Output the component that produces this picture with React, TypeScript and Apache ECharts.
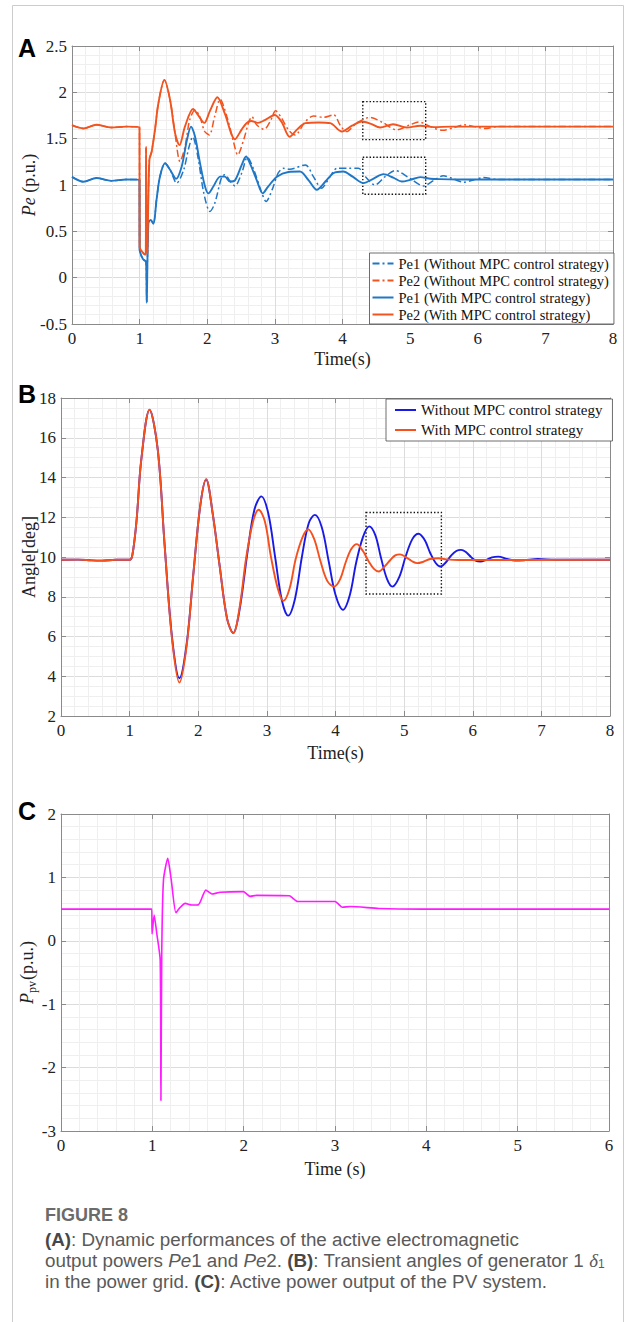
import React, { useEffect, useRef } from "react";
import * as echarts from "echarts";

// ---------- Panel A: electromagnetic output powers (p.u.) vs time (s) ----------
const peTimeTicks = [0, 1, 2, 3, 4, 5, 6, 7, 8];
const peValueTicks = [-0.5, 0, 0.5, 1, 1.5, 2, 2.5];

const pe1WithoutMpc: [number, number][] = [
  [0, 1.088], [0.17, 1.035], [0.36, 1.075], [0.58, 1.045], [0.8, 1.06], [0.998, 1.056],
  [1.0, 0.3], [1.05, 0.2], [1.095, 0.17], [1.105, -0.27], [1.129, 0.59], [1.164, 0.624],
  [1.203, 0.58], [1.25, 0.84], [1.3, 1.09], [1.376, 1.235], [1.45, 1.164], [1.548, 1.02],
  [1.65, 1.16], [1.73, 1.41], [1.785, 1.52], [1.86, 1.31], [1.95, 0.91], [2.04, 0.714],
  [2.11, 0.8], [2.215, 1.09], [2.26, 1.11], [2.34, 1.04], [2.41, 0.99], [2.51, 1.13],
  [2.594, 1.3], [2.68, 1.18], [2.81, 0.91], [2.87, 0.822], [2.96, 0.95], [3.05, 1.13],
  [3.13, 1.18], [3.22, 1.17], [3.45, 1.217], [3.57, 1.09], [3.69, 0.966], [3.8, 1.07],
  [3.92, 1.18], [4.1, 1.18], [4.235, 1.18], [4.34, 1.09], [4.48, 1.0], [4.63, 1.09],
  [4.78, 1.156], [5.0, 1.07], [5.197, 0.99], [5.35, 1.05], [5.49, 1.1], [5.64, 1.065],
  [5.79, 1.03], [5.94, 1.055], [6.08, 1.08], [6.3, 1.06], [6.6, 1.06], [8, 1.06],
];

const pe2WithoutMpc: [number, number][] = [
  [0, 1.645], [0.17, 1.61], [0.36, 1.65], [0.58, 1.62], [0.8, 1.63], [0.998, 1.627],
  [1.0, 0.33], [1.06, 0.26], [1.09, 0.25], [1.095, 1.41], [1.105, 0.26], [1.114, 0.27],
  [1.144, 1.27], [1.178, 1.36], [1.228, 1.6], [1.277, 1.88], [1.366, 2.134], [1.45, 1.92],
  [1.52, 1.58], [1.598, 1.253], [1.67, 1.41], [1.74, 1.7], [1.82, 1.81], [1.89, 1.74],
  [1.96, 1.58], [2.03, 1.54], [2.11, 1.74], [2.19, 1.925], [2.29, 1.74], [2.39, 1.46],
  [2.45, 1.325], [2.54, 1.49], [2.61, 1.67], [2.66, 1.738], [2.73, 1.65], [2.84, 1.6],
  [2.94, 1.7], [3.01, 1.8], [3.1, 1.72], [3.2, 1.595], [3.3, 1.54], [3.45, 1.684],
  [3.57, 1.745], [3.72, 1.73], [3.87, 1.756], [3.97, 1.64], [4.06, 1.577], [4.21, 1.67],
  [4.41, 1.73], [4.605, 1.67], [4.8, 1.595], [5.0, 1.65], [5.13, 1.68], [5.3, 1.63],
  [5.48, 1.59], [5.65, 1.62], [5.8, 1.65], [5.95, 1.63], [6.1, 1.61], [6.3, 1.63],
  [6.6, 1.63], [8, 1.63],
];

const pe1WithMpc: [number, number][] = [
  [0, 1.088], [0.17, 1.035], [0.36, 1.075], [0.58, 1.045], [0.8, 1.06], [0.998, 1.056],
  [1.0, 0.3], [1.05, 0.2], [1.095, 0.17], [1.105, -0.27], [1.129, 0.59], [1.164, 0.624],
  [1.203, 0.58], [1.25, 0.84], [1.3, 1.09], [1.376, 1.235], [1.45, 1.164], [1.539, 1.066],
  [1.622, 1.2], [1.7, 1.487], [1.76, 1.63], [1.82, 1.52], [1.893, 1.236], [1.967, 0.983],
  [2.016, 0.91], [2.09, 0.983], [2.19, 1.09], [2.26, 1.09], [2.337, 1.037], [2.41, 1.05],
  [2.51, 1.217], [2.574, 1.307], [2.63, 1.235], [2.73, 1.056], [2.82, 0.91], [2.9, 0.983],
  [3.03, 1.09], [3.2, 1.14], [3.37, 1.145], [3.5, 1.05], [3.62, 0.948], [3.75, 1.04],
  [3.865, 1.127], [4.01, 1.145], [4.15, 1.09], [4.31, 1.02], [4.46, 1.07], [4.605, 1.117],
  [4.75, 1.08], [4.877, 1.037], [5.0, 1.055], [5.15, 1.085], [5.3, 1.068], [5.44, 1.063],
  [5.7, 1.06], [8, 1.06],
];

const pe2WithMpc: [number, number][] = [
  [0, 1.645], [0.17, 1.61], [0.36, 1.65], [0.58, 1.62], [0.8, 1.63], [0.998, 1.627],
  [1.0, 0.33], [1.06, 0.26], [1.09, 0.25], [1.095, 1.41], [1.105, 0.26], [1.114, 0.27],
  [1.144, 1.27], [1.178, 1.36], [1.228, 1.6], [1.277, 1.88], [1.366, 2.134], [1.45, 1.92],
  [1.524, 1.56], [1.59, 1.43], [1.67, 1.63], [1.79, 1.82], [1.86, 1.76], [1.957, 1.67],
  [2.04, 1.8], [2.15, 1.947], [2.26, 1.77], [2.41, 1.494], [2.51, 1.6], [2.58, 1.667],
  [2.65, 1.69], [2.75, 1.67], [2.85, 1.7], [3.0, 1.756], [3.1, 1.68], [3.22, 1.52],
  [3.33, 1.6], [3.45, 1.667], [3.65, 1.675], [3.82, 1.667], [3.99, 1.577], [4.14, 1.64],
  [4.29, 1.685], [4.42, 1.66], [4.556, 1.62], [4.75, 1.656], [4.95, 1.62], [5.15, 1.64],
  [5.35, 1.625], [5.6, 1.63], [8, 1.63],
];

// dotted zoom boxes in panel A: [t0, v0, t1, v1]
const peBoxUpper = [4.3, 1.9, 5.23, 1.49];
const peBoxLower = [4.3, 1.3, 5.23, 0.9];

// ---------- Panel B: rotor angle (deg) vs time (s) ----------
const angleTimeTicks = [0, 1, 2, 3, 4, 5, 6, 7, 8];
const angleValueTicks = [2, 4, 6, 8, 10, 12, 14, 16, 18];

const angleWithoutMpc: [number, number][] = [
  [0, 9.86], [0.25, 9.87], [0.45, 9.83], [0.6, 9.82], [0.8, 9.86], [1.0, 9.86],
  [1.04, 10.1], [1.1, 11.8], [1.17, 14.9], [1.29, 17.41], [1.41, 15.4], [1.51, 10.6],
  [1.62, 5.9], [1.726, 3.9], [1.83, 5.6], [1.93, 9.2], [2.03, 12.6], [2.115, 13.9],
  [2.21, 12.2], [2.31, 9.6], [2.42, 6.9], [2.51, 6.18], [2.6, 7.3], [2.72, 10.3],
  [2.82, 12.4], [2.92, 13.05], [3.02, 12.2], [3.12, 10.0], [3.22, 7.8], [3.31, 7.05],
  [3.41, 7.9], [3.51, 10.0], [3.61, 11.7], [3.7, 12.12], [3.8, 11.5], [3.9, 9.8],
  [4.0, 8.1], [4.11, 7.34], [4.21, 8.1], [4.3, 9.7], [4.4, 11.0], [4.49, 11.54],
  [4.58, 11.1], [4.66, 10.0], [4.75, 8.9], [4.83, 8.51], [4.93, 9.0], [5.02, 10.0],
  [5.12, 10.9], [5.21, 11.17], [5.3, 10.85], [5.38, 10.2], [5.46, 9.7], [5.53, 9.52],
  [5.6, 9.7], [5.68, 10.05], [5.76, 10.3], [5.83, 10.36], [5.9, 10.25], [5.98, 9.98],
  [6.05, 9.8], [6.11, 9.77], [6.2, 9.86], [6.28, 9.98], [6.37, 10.02], [6.5, 9.9],
  [6.62, 9.82], [6.75, 9.84], [6.95, 9.9], [7.2, 9.86], [8, 9.86],
];

const angleWithMpc: [number, number][] = [
  [0, 9.86], [0.25, 9.87], [0.45, 9.83], [0.6, 9.82], [0.8, 9.86], [1.0, 9.86],
  [1.04, 10.1], [1.1, 11.8], [1.17, 14.9], [1.29, 17.41], [1.41, 15.4], [1.51, 10.6],
  [1.62, 5.8], [1.726, 3.68], [1.83, 5.5], [1.93, 9.2], [2.03, 12.6], [2.115, 13.92],
  [2.21, 12.2], [2.31, 9.6], [2.42, 6.9], [2.51, 6.16], [2.6, 7.4], [2.7, 10.0],
  [2.8, 11.8], [2.88, 12.38], [2.97, 11.8], [3.06, 10.0], [3.16, 8.4], [3.24, 7.79],
  [3.33, 8.4], [3.42, 9.9], [3.52, 11.0], [3.6, 11.4], [3.69, 10.9], [3.78, 9.8],
  [3.88, 8.8], [3.98, 8.51], [4.07, 8.9], [4.15, 9.75], [4.23, 10.4], [4.31, 10.65],
  [4.4, 10.3], [4.48, 9.8], [4.56, 9.4], [4.63, 9.27], [4.71, 9.5], [4.8, 9.85],
  [4.87, 10.08], [4.94, 10.13], [5.03, 9.98], [5.11, 9.8], [5.19, 9.69], [5.28, 9.76],
  [5.38, 9.9], [5.5, 9.94], [5.62, 9.88], [5.8, 9.85], [8, 9.86],
];

const angleBox = [4.445, 12.24, 5.543, 8.14];

// ---------- Panel C: PV active power (p.u.) vs time (s) ----------
const pvTimeTicks = [0, 1, 2, 3, 4, 5, 6];
const pvValueTicks = [-3, -2, -1, 0, 1, 2];

const pvPower: [number, number][] = [
  [0, 0.5], [0.994, 0.5], [0.997, 0.107], [1.02, 0.407], [1.05, 0.1], [1.086, -0.3],
  [1.094, -2.52], [1.103, -0.2], [1.122, 0.96], [1.169, 1.3], [1.207, 0.96], [1.258, 0.443],
  [1.3, 0.52], [1.36, 0.59], [1.433, 0.565], [1.506, 0.57], [1.586, 0.8], [1.652, 0.738],
  [1.743, 0.765], [1.998, 0.775], [2.07, 0.7], [2.14, 0.717], [2.5, 0.71], [2.59, 0.62],
  [3.0, 0.62], [3.08, 0.53], [3.17, 0.54], [3.48, 0.51], [3.96, 0.5], [6, 0.5],
];

// ---------- names ----------
const peNames = [
  "Pe1 (Without MPC control strategy)",
  "Pe2 (Without MPC control strategy)",
  "Pe1 (With MPC control strategy)",
  "Pe2 (With MPC control strategy)",
];
const angleNames = ["Without MPC control strategy", "With MPC control strategy"];

const SERIF = "'Liberation Serif', 'Times New Roman', serif";
const SANS = "'Liberation Sans', Arial, sans-serif";
const AXIS_COLOR = "#8a8a8a";
const TEXT_COLOR = "#222222";
const BLUE = "#1f77c6";
const ORANGE = "#f2541f";
const DASHDOT = [7, 3, 2, 3];

function bottomX(grid: number, ticks: number[], name: string, nameGap: number) {
  return {
    type: "value",
    gridIndex: grid,
    position: "bottom",
    min: ticks[0],
    max: ticks[ticks.length - 1],
    interval: ticks[1] - ticks[0],
    name,
    nameLocation: "middle",
    nameGap,
    nameMoveOverlap: false,
    nameTextStyle: { fontFamily: SERIF, fontSize: 18, color: TEXT_COLOR },
    axisLine: { show: true, onZero: false, lineStyle: { color: AXIS_COLOR, width: 1 } },
    axisTick: { show: true, inside: true, length: 5, lineStyle: { color: AXIS_COLOR } },
    axisLabel: { show: true, margin: 6, fontFamily: SERIF, fontSize: 17, color: TEXT_COLOR },
    splitLine: { show: true, lineStyle: { color: "#dcdcdc", width: 1 } },
    minorTick: { show: false, splitNumber: 5 },
    minorSplitLine: { show: true, lineStyle: { color: "#efefef", width: 1 } },
  };
}
function topX(grid: number, ticks: number[]) {
  return {
    type: "value",
    gridIndex: grid,
    position: "top",
    min: ticks[0],
    max: ticks[ticks.length - 1],
    interval: ticks[1] - ticks[0],
    axisLine: { show: true, onZero: false, lineStyle: { color: AXIS_COLOR, width: 1 } },
    axisTick: { show: true, inside: true, length: 5, lineStyle: { color: AXIS_COLOR } },
    axisLabel: { show: false },
    splitLine: { show: false },
  };
}
function leftY(grid: number, ticks: number[], name: string, nameGap: number, minorSplit: number, rich: any) {
  return {
    type: "value",
    gridIndex: grid,
    position: "left",
    min: ticks[0],
    max: ticks[ticks.length - 1],
    interval: ticks[1] - ticks[0],
    name,
    nameLocation: "middle",
    nameRotate: 90,
    nameGap,
    nameMoveOverlap: false,
    nameTextStyle: { fontFamily: SERIF, fontSize: 18, color: TEXT_COLOR, rich },
    axisLine: { show: true, onZero: false, lineStyle: { color: AXIS_COLOR, width: 1 } },
    axisTick: { show: true, inside: true, length: 5, lineStyle: { color: AXIS_COLOR } },
    axisLabel: { show: true, margin: 5, fontFamily: SERIF, fontSize: 17, color: TEXT_COLOR },
    splitLine: { show: true, lineStyle: { color: "#dcdcdc", width: 1 } },
    minorTick: { show: false, splitNumber: minorSplit },
    minorSplitLine: { show: true, lineStyle: { color: "#efefef", width: 1 } },
  };
}
function rightY(grid: number, ticks: number[]) {
  return {
    type: "value",
    gridIndex: grid,
    position: "right",
    min: ticks[0],
    max: ticks[ticks.length - 1],
    interval: ticks[1] - ticks[0],
    axisLine: { show: true, onZero: false, lineStyle: { color: AXIS_COLOR, width: 1 } },
    axisTick: { show: true, inside: true, length: 5, lineStyle: { color: AXIS_COLOR } },
    axisLabel: { show: false },
    splitLine: { show: false },
  };
}

function boxArea(b: number[]) {
  return [{ xAxis: b[0], yAxis: b[1] }, { xAxis: b[2], yAxis: b[3] }];
}
const boxStyle = {
  color: "rgba(0,0,0,0)",
  borderColor: "#111111",
  borderWidth: 1.4,
  borderType: [1.4, 2],
};

function lineSeries(name: string, data: [number, number][], axis: number, color: string, width: number, type: any, smooth: number, extra: any = {}) {
  return {
    type: "line",
    name,
    data,
    xAxisIndex: axis,
    yAxisIndex: axis,
    showSymbol: false,
    symbol: "none",
    smooth,
    lineStyle: { color, width, type },
    itemStyle: { color, opacity: 0 },
    silent: true,
    ...extra,
  };
}

const legendCommon = {
  orient: "vertical",
  itemWidth: 21,
  itemHeight: 10,
  itemGap: 0,
  backgroundColor: "#ffffff",
  borderColor: "#4a4a4a",
  borderWidth: 0.8,
  borderRadius: 0,
  selectedMode: false,
  itemStyle: { opacity: 0 },
};

const capBase = { fontFamily: SANS, fontSize: 18.8, fill: "#5a5a5a", lineHeight: 20 };
const capBold = { fontFamily: SANS, fontSize: 18.8, fontWeight: "bold", fill: "#474747", lineHeight: 20 };

export default function App() {
  const ref = useRef<HTMLDivElement>(null);
  useEffect(() => {
    if (!ref.current) return;
    const chart = echarts.init(ref.current, null, { renderer: "svg" });
    const option: any = {
      animation: false,
      backgroundColor: "#ffffff",
      grid: [
        { left: 72, top: 46, width: 541, height: 278 },
        { left: 61, top: 398, width: 549, height: 318 },
        { left: 61, top: 814, width: 548, height: 317 },
      ],
      xAxis: [
        bottomX(0, peTimeTicks, "Time(s)", 26),
        topX(0, peTimeTicks),
        bottomX(1, angleTimeTicks, "Time(s)", 28),
        topX(1, angleTimeTicks),
        bottomX(2, pvTimeTicks, "Time (s)", 29),
        topX(2, pvTimeTicks),
      ],
      yAxis: [
        leftY(0, peValueTicks, "{i|Pe} (p.u.)", 34, 5, {
          i: { fontFamily: SERIF, fontStyle: "italic", fontSize: 18, color: TEXT_COLOR },
        }),
        rightY(0, peValueTicks),
        leftY(1, angleValueTicks, "Angle[deg]", 23, 4, {}),
        rightY(1, angleValueTicks),
        leftY(2, pvValueTicks, "{i|P}{s|pv}(p.u.)", 23, 5, {
          i: { fontFamily: SERIF, fontStyle: "italic", fontSize: 18, color: TEXT_COLOR },
          s: { fontFamily: SERIF, fontSize: 12, color: TEXT_COLOR, padding: [10, 1, 0, 0] },
        }),
        rightY(2, pvValueTicks),
      ],
      legend: [
        {
          ...legendCommon,
          data: peNames,
          left: 369.5,
          top: 253,
          padding: [2, 5, 1, 2],
          textStyle: { fontFamily: SERIF, fontSize: 14.5, color: "#111111", lineHeight: 17 },
        },
        {
          ...legendCommon,
          data: angleNames,
          left: 386,
          top: 399,
          padding: [1, 10, 1, 8],
          textStyle: { fontFamily: SERIF, fontSize: 15, color: "#111111", lineHeight: 20 },
        },
      ],
      series: [
        lineSeries(peNames[0], pe1WithoutMpc, 0, BLUE, 1.5, DASHDOT, 0.3),
        lineSeries(peNames[1], pe2WithoutMpc, 0, ORANGE, 1.5, DASHDOT, 0.3),
        lineSeries(peNames[2], pe1WithMpc, 0, BLUE, 1.9, "solid", 0.3, {
          markArea: { silent: true, itemStyle: boxStyle, data: [boxArea(peBoxLower)] },
        }),
        lineSeries(peNames[3], pe2WithMpc, 0, ORANGE, 1.9, "solid", 0.3, {
          markArea: { silent: true, itemStyle: boxStyle, data: [boxArea(peBoxUpper)] },
        }),
        lineSeries(angleNames[0], angleWithoutMpc, 2, "#1a1ae6", 1.9, "solid", 0.35),
        lineSeries(angleNames[1], angleWithMpc, 2, "#f5501e", 1.9, "solid", 0.35, {
          markArea: { silent: true, itemStyle: boxStyle, data: [boxArea(angleBox)] },
        }),
        lineSeries("Ppv", pvPower, 4, "#ff1aff", 1.6, "solid", 0.2),
      ],
      graphic: [
        {
          type: "rect",
          z: -10,
          shape: { x: 12.5, y: 5.5, width: 611, height: 1340 },
          style: { fill: "none", stroke: "#cccccc", lineWidth: 1 },
          silent: true,
        },
        {
          type: "text", x: 18, y: 48,
          style: { text: "A", fontFamily: SANS, fontWeight: "bold", fontSize: 25, fill: "#000", verticalAlign: "middle" },
        },
        {
          type: "text", x: 18, y: 394,
          style: { text: "B", fontFamily: SANS, fontWeight: "bold", fontSize: 25, fill: "#000", verticalAlign: "middle" },
        },
        {
          type: "text", x: 18, y: 811,
          style: { text: "C", fontFamily: SANS, fontWeight: "bold", fontSize: 25, fill: "#000", verticalAlign: "middle" },
        },
        {
          type: "text", x: 45, y: 1215,
          style: { text: "FIGURE 8", fontFamily: SANS, fontWeight: "bold", fontSize: 18, fill: "#6b6b6b", verticalAlign: "middle", lineHeight: 20 },
        },
        {
          type: "text", x: 45, y: 1239,
          style: {
            ...capBase,
            text: "{b|(A)}: Dynamic performances of the active electromagnetic",
            verticalAlign: "middle",
            rich: { b: capBold },
          },
        },
        {
          type: "text", x: 45, y: 1260,
          style: {
            ...capBase,
            text: "output powers {i|Pe}1 and {i|Pe}2. {b|(B)}: Transient angles of generator 1 {d|δ}{s|1}",
            verticalAlign: "middle",
            rich: {
              b: capBold,
              i: { ...capBase, fontStyle: "italic" },
              d: { ...capBase, fontFamily: SERIF, fontStyle: "italic" },
              s: { fontFamily: SANS, fontSize: 12, fill: "#5a5a5a", lineHeight: 12, verticalAlign: "bottom" },
            },
          },
        },
        {
          type: "text", x: 45, y: 1281,
          style: {
            ...capBase,
            text: "in the power grid. {b|(C)}: Active power output of the PV system.",
            verticalAlign: "middle",
            rich: { b: capBold },
          },
        },
      ],
    };
    chart.setOption(option);
    return () => chart.dispose();
  }, []);
  return (
    <div
      ref={ref}
      style={{ position: "absolute", left: 0, top: 0, width: 625, height: 1322, background: "#fff" }}
    />
  );
}
